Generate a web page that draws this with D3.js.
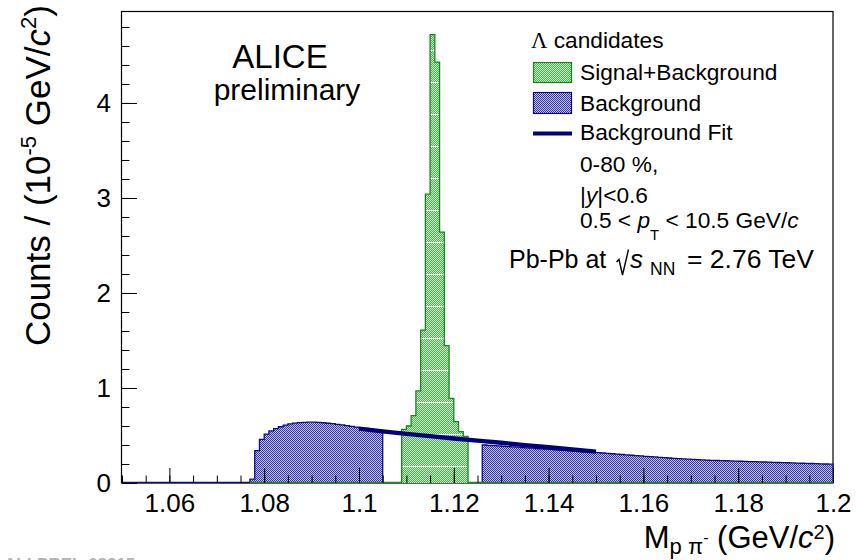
<!DOCTYPE html>
<html><head><meta charset="utf-8">
<script src="https://cdn.jsdelivr.net/npm/d3@7"></script>
<style>
body{margin:0;background:#fff}
svg{display:block}
text{font-family:"Liberation Sans",Arial,Helvetica,sans-serif;fill:#000}
</style>
</head><body>
<svg id="c" width="856" height="560"></svg>
<script>
// ---------------- data ----------------
const binWidth = 0.001;
const bkgLeftStart = 1.077;
const bkgLeft = [0.04,0.34,0.46,0.515,0.548,0.573,0.592,0.610,0.622,0.630,0.636,0.639,0.640,0.640,
  0.638,0.634,0.629,0.624,0.618,0.611,0.604,0.597,0.589,0.581,0.574,0.567,0.560,0.553];
const sigStart = 1.109;
const sigBkg = [0.565,0.60,0.71,0.97,1.61,3.04,4.72,4.43,2.64,1.445,0.89,0.645,0.54,0.49];
const bkgRightStart = 1.126;
const bkgRight = [0.400,0.397,0.393,0.390,0.387,0.383,0.380,0.377,0.373,0.370,0.367,0.363,0.360,0.357,
  0.353,0.350,0.347,0.343,0.340,0.337,0.333,0.330,0.327,0.323,0.320,0.316,0.312,0.308,0.304,0.300,
  0.296,0.292,0.288,0.285,0.281,0.277,0.274,0.270,0.267,0.263,0.260,0.257,0.254,0.251,0.248,0.245,
  0.243,0.241,0.239,0.237,0.235,0.234,0.232,0.231,0.229,0.228,0.226,0.224,0.223,0.221,0.220,0.218,
  0.216,0.215,0.213,0.211,0.210,0.208,0.207,0.205,0.203,0.202,0.200,0.198];
const fitX = [1.100,1.105,1.110,1.115,1.120,1.125,1.130,1.135,1.140,1.145,1.150];
const fitY = [0.573,0.543,0.517,0.493,0.469,0.446,0.423,0.399,0.376,0.353,0.330];
const xTickLabels = ["1.06","1.08","1.1","1.12","1.14","1.16","1.18","1.2"];
const yTickLabels = ["0","1","2","3","4"];
const xDomain = [1.05, 1.2];
const yDomain = [0, 4.968];

// ---------------- setup ----------------
const svg = d3.select('#c');
const P = {l:122, r:833, t:11, b:483};
const x = d3.scaleLinear().domain(xDomain).range([P.l, P.r]);
const y = d3.scaleLinear().domain(yDomain).range([P.b, P.t]);

const defs = svg.append('defs');
function pattern(id, light, dark, seam){
  const h = seam ? 32 : 2;
  const p = defs.append('pattern').attr('id', id).attr('patternUnits','userSpaceOnUse')
    .attr('width', 2).attr('height', h).attr('y', seam ? 19 : 0);
  p.append('rect').attr('width', 2).attr('height', h).attr('fill', light);
  for (let j = 0; j < h; j++) p.append('rect').attr('x', j % 2).attr('y', j).attr('width', 1).attr('height', 1).attr('fill', dark);
  if (seam) p.append('rect').attr('x', 0).attr('y', 31).attr('width', 2).attr('height', 1).attr('fill', '#f2fbf2');
}
pattern('pGreen', '#c6ecc6', '#50ac50', true);
pattern('pBlue', '#c4c4ec', '#3434a2', false);

const GREEN_LINE = '#15891c', BLUE_LINE = '#0c0c8a', FIT = '#00007d';

function makeBins(start, vals){
  return vals.map((v, i) => ({x0: start + i * binWidth, x1: start + (i + 1) * binWidth, v}));
}
function stepPath(b){
  let p = `M${x(b[0].x0)},${y(0)}`;
  b.forEach(d => { p += `L${x(d.x0)},${y(d.v)}L${x(d.x1)},${y(d.v)}`; });
  p += `L${x(b[b.length - 1].x1)},${y(0)}`;
  return p;
}

const leftBins = makeBins(bkgLeftStart, bkgLeft);
const rightBins = makeBins(bkgRightStart, bkgRight);
const sigBins = makeBins(sigStart, sigBkg);

// frame
svg.append('rect').attr('x', P.l - 0.5).attr('y', P.t + 0.5).attr('width', P.r - P.l + 0.5).attr('height', P.b - P.t - 0.5)
  .attr('fill', '#fff').attr('stroke', '#000').attr('stroke-width', 1.2);

// background histogram (fill + outline)
[leftBins, rightBins].forEach(b => {
  svg.append('path').attr('d', stepPath(b) + 'Z').attr('fill', 'url(#pBlue)').attr('stroke', 'none');
  svg.append('path').attr('d', stepPath(b)).attr('fill', 'none').attr('stroke', BLUE_LINE).attr('stroke-width', 1.3);
});
// zero-level lines of the histograms
svg.append('line').attr('x1', x(xDomain[0])).attr('x2', x(bkgLeftStart)).attr('y1', y(0) - 0.5).attr('y2', y(0) - 0.5)
  .attr('stroke', BLUE_LINE).attr('stroke-width', 1.5);
svg.append('line').attr('x1', x(bkgLeftStart)).attr('x2', x(xDomain[1])).attr('y1', y(0) - 0.5).attr('y2', y(0) - 0.5)
  .attr('stroke', GREEN_LINE).attr('stroke-width', 1.5);

// signal + background histogram
svg.append('path').attr('d', stepPath(sigBins) + 'Z').attr('fill', 'url(#pGreen)').attr('stroke', 'none');
svg.append('path').attr('d', stepPath(sigBins)).attr('fill', 'none').attr('stroke', GREEN_LINE).attr('stroke-width', 1.3);

// background fit
const fitLine = d3.line().x(d => x(d[0])).y(d => y(d[1]));
svg.append('path').attr('d', fitLine(fitX.map((v, i) => [v, fitY[i]])))
  .attr('fill', 'none').attr('stroke', FIT).attr('stroke-width', 4.4);

// ---------------- axes ----------------
const xMinor = d3.range(0, 31).map(i => xDomain[0] + i * 0.005);
const xMajor = xTickLabels.map(Number);
const gxMinor = svg.append('g').attr('transform', `translate(0,${P.b})`)
  .call(d3.axisBottom(x).tickValues(xMinor).tickSize(-7.5).tickFormat(''));
const gx = svg.append('g').attr('transform', `translate(0,${P.b})`)
  .call(d3.axisBottom(x).tickValues(xMajor).tickSize(-15).tickPadding(11).tickFormat((d, i) => xTickLabels[i]));
const yMinor = d3.range(0, 25).map(i => i * 0.2);
const yMajor = yTickLabels.map(Number);
const gyMinor = svg.append('g').attr('transform', `translate(${P.l},0)`)
  .call(d3.axisLeft(y).tickValues(yMinor).tickSize(-7.5).tickFormat(''));
const gy = svg.append('g').attr('transform', `translate(${P.l},0)`)
  .call(d3.axisLeft(y).tickValues(yMajor).tickSize(-15).tickPadding(11).tickFormat((d, i) => yTickLabels[i]));
[gxMinor, gx, gyMinor, gy].forEach(g => {
  g.select('.domain').remove();
  g.selectAll('line').attr('stroke', '#000').attr('stroke-width', 1);
  g.selectAll('text').attr('font-family', '"Liberation Sans",Arial,sans-serif').attr('font-size', 26).attr('fill', '#000');
});

// axis titles
const yt = svg.append('text').attr('transform', 'translate(50,5) rotate(-90)')
  .attr('text-anchor', 'end').attr('font-size', 35);
yt.append('tspan').text('Counts / (10');
yt.append('tspan').attr('font-size', 22).attr('dy', -14).text('-5');
yt.append('tspan').attr('dy', 14).text(' GeV/');
yt.append('tspan').attr('font-style', 'italic').text('c');
yt.append('tspan').attr('font-size', 22).attr('dy', -14).text('2');
yt.append('tspan').attr('dy', 14).text(')');

const xt = svg.append('text').attr('x', 835).attr('y', 548).attr('text-anchor', 'end').attr('font-size', 31);
xt.append('tspan').text('M');
xt.append('tspan').attr('font-size', 22).attr('dy', 6).text('p π');
xt.append('tspan').attr('font-size', 16).attr('dy', -11).text('-');
xt.append('tspan').attr('dy', 5).text(' (GeV/');
xt.append('tspan').attr('font-style', 'italic').text('c');
xt.append('tspan').attr('font-size', 20).attr('dy', -9).text('2');
xt.append('tspan').attr('dy', 9).text(')');

// ALICE preliminary
svg.append('text').attr('x', 280).attr('y', 68).attr('text-anchor', 'middle').attr('font-size', 33).text('ALICE');
svg.append('text').attr('x', 287).attr('y', 100).attr('text-anchor', 'middle').attr('font-size', 30).text('preliminary');

// ---------------- legend ----------------
const LF = 22.7;
const lg = svg.append('g');
lg.append('text').attr('x', 531).attr('y', 48).attr('font-size', LF)
  .call(t => { t.append('tspan').attr('font-family', '"Liberation Serif","Times New Roman",serif').text('Λ'); t.append('tspan').text(' candidates'); });
lg.append('rect').attr('x', 533.5).attr('y', 62.5).attr('width', 38).attr('height', 20)
  .attr('fill', 'url(#pGreen)').attr('stroke', GREEN_LINE).attr('stroke-width', 1.2);
lg.append('text').attr('x', 580).attr('y', 80).attr('font-size', LF).text('Signal+Background');
lg.append('rect').attr('x', 533.5).attr('y', 92.5).attr('width', 38).attr('height', 21)
  .attr('fill', 'url(#pBlue)').attr('stroke', BLUE_LINE).attr('stroke-width', 1.2);
lg.append('text').attr('x', 580).attr('y', 110.5).attr('font-size', LF).text('Background');
lg.append('line').attr('x1', 533).attr('x2', 572).attr('y1', 133.5).attr('y2', 133.5).attr('stroke', FIT).attr('stroke-width', 4.2);
lg.append('text').attr('x', 580).attr('y', 140).attr('font-size', LF).text('Background Fit');
lg.append('text').attr('x', 580).attr('y', 171.5).attr('font-size', LF).text('0-80 %,');
lg.append('text').attr('x', 580).attr('y', 203).attr('font-size', LF)
  .call(t => { t.append('tspan').text('|'); t.append('tspan').attr('font-style', 'italic').text('y'); t.append('tspan').text('|<0.6'); });
lg.append('text').attr('x', 580).attr('y', 228).attr('font-size', LF)
  .call(t => {
    t.append('tspan').text('0.5 < ');
    t.append('tspan').attr('font-style', 'italic').text('p');
    t.append('tspan').attr('font-size', 15).attr('dy', 12).text('T');
    t.append('tspan').attr('dy', -12).text(' < 10.5 GeV/');
    t.append('tspan').attr('font-style', 'italic').text('c');
  });

// Pb-Pb at sqrt(sNN)
const PF = 25;
svg.append('text').attr('x', 509).attr('y', 268).attr('font-size', PF).text('Pb-Pb at');
svg.append('path').attr('d', 'M616.5,262 L619,259.5 L622.5,275 L628.5,249.5').attr('fill', 'none')
  .attr('stroke', '#000').attr('stroke-width', 1.4);
svg.append('text').attr('x', 630).attr('y', 268).attr('font-size', 26).attr('font-style', 'italic').text('s');
svg.append('text').attr('x', 650).attr('y', 275).attr('font-size', 17.5).text('NN');
svg.append('text').attr('x', 687).attr('y', 268).attr('font-size', 26.5).text('= 2.76 TeV');

// watermark id
svg.append('text').attr('x', 4).attr('y', 570).attr('font-size', 17).attr('font-weight', 'bold')
  .attr('fill', '#b4b4b4').style('fill', '#b4b4b4').text('ALI-PREL-68215');
</script>
</body></html>
